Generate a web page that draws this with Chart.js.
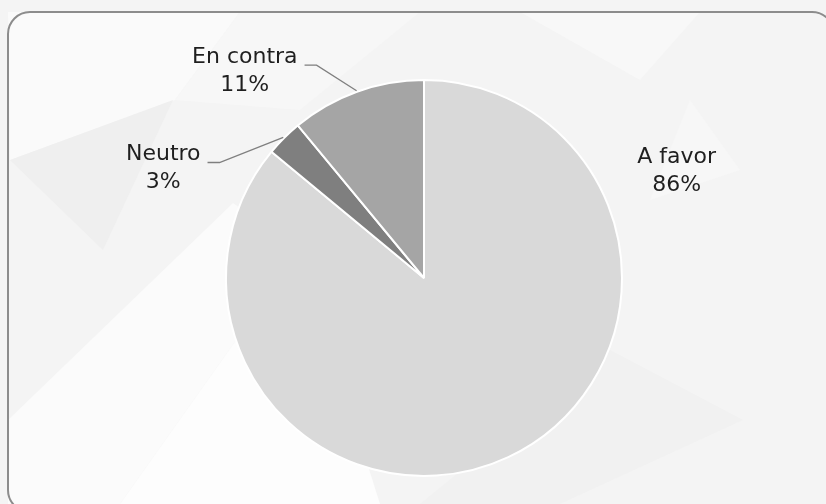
<!DOCTYPE html>
<html>
<head>
<meta charset="utf-8">
<script src="https://cdn.jsdelivr.net/npm/chart.js@4"></script>
<style>
  html, body { margin: 0; padding: 0; background: #f4f4f4; }
  .chart-box { width: 826px; height: 504px; position: relative; }
</style>
</head>
<body>
<div class="chart-box"><canvas id="pie"></canvas></div>
<script>
const labels = ["A favor", "Neutro", "En contra"];
const values = [86, 3, 11];
const sliceColors = ["#d9d9d9", "#7f7f7f", "#a5a5a5"];

const ctx = document.getElementById("pie").getContext("2d");

// soft background shapes + rounded frame
const backdrop = {
  id: "backdrop",
  beforeDraw(chart) {
    const c = chart.ctx;
    const w = chart.width, h = chart.height;
    c.save();
    c.fillStyle = "#f4f4f4";
    c.fillRect(0, 0, w, h);

    const shapes = [
      { fill: "#fafafa", pts: [[8, 12], [240, 12], [175, 100], [10, 160]] },
      { fill: "#efefef", pts: [[10, 160], [103, 250], [173, 100]] },
      { fill: "#f7f7f7", pts: [[175, 100], [240, 12], [420, 12], [300, 110]] },
      { fill: "#fbfbfb", pts: [[8, 420], [233, 203], [300, 250], [120, 504], [8, 504]] },
      { fill: "#fdfdfd", pts: [[8, 504], [120, 504], [300, 250], [380, 504]] },
      { fill: "#f1f1f1", pts: [[610, 350], [743, 420], [560, 504], [420, 504]] },
      { fill: "#f7f7f7", pts: [[690, 100], [740, 170], [650, 200]] },
      { fill: "#f8f8f8", pts: [[520, 12], [700, 12], [640, 80]] }
    ];
    shapes.forEach((s) => {
      c.beginPath();
      s.pts.forEach((p, i) => (i ? c.lineTo(p[0], p[1]) : c.moveTo(p[0], p[1])));
      c.closePath();
      c.fillStyle = s.fill;
      c.fill();
    });

    // frame
    c.beginPath();
    c.roundRect(8, 12, 826, 500, 22);
    c.lineWidth = 2;
    c.strokeStyle = "#8c8c8c";
    c.stroke();
    c.restore();
  },
};

// outside labels with leader lines
const sliceLabels = {
  id: "sliceLabels",
  afterDraw(chart, args, opts) {
    const c = chart.ctx;
    const meta = chart.getDatasetMeta(0);
    const total = values.reduce((a, b) => a + b, 0);
    c.save();
    c.font = "22px 'DejaVu Sans'";
    c.fillStyle = "#1f1f1f";
    c.textAlign = "center";
    c.textBaseline = "middle";
    meta.data.forEach((arc, i) => {
      const r = arc.outerRadius;
      const pos = opts.pos[i];
      const lx = arc.x + pos[0] * r;
      const ly = arc.y + pos[1] * r;
      const pct = Math.round((values[i] / total) * 100) + "%";
      c.fillText(labels[i], lx, ly - 14);
      c.fillText(pct, lx, ly + 14);

      if (opts.leader[i]) {
        const mid = (arc.startAngle + arc.endAngle) / 2;
        const ex = arc.x + Math.cos(mid) * (r + 1);
        const ey = arc.y + Math.sin(mid) * (r + 1);
        const tw = c.measureText(labels[i]).width;
        const sx = lx + tw / 2 + 7;
        const sy = ly - 6;
        c.beginPath();
        c.moveTo(sx, sy);
        c.lineTo(sx + 12, sy);
        c.lineTo(ex, ey);
        c.lineWidth = 1.3;
        c.strokeStyle = "#7f7f7f";
        c.stroke();
      }
    });
    c.restore();
  },
};

new Chart(ctx, {
  type: "pie",
  data: {
    labels: labels,
    datasets: [
      {
        data: values,
        backgroundColor: sliceColors,
        borderColor: "#ffffff",
        borderWidth: 2,
        hoverOffset: 0,
        offset: 0,
      },
    ],
  },
  options: {
    responsive: true,
    maintainAspectRatio: false,
    animation: false,
    events: [],
    layout: {
      padding: { top: 79, bottom: 27, left: 22, right: 0 },
    },
    plugins: {
      legend: { display: false },
      tooltip: { enabled: false },
      sliceLabels: {
        pos: [
          [1.276, -0.54],
          [-1.317, -0.553],
          [-0.905, -1.045],
        ],
        leader: [false, true, true],
      },
    },
  },
  plugins: [backdrop, sliceLabels],
});
</script>
</body>
</html>
